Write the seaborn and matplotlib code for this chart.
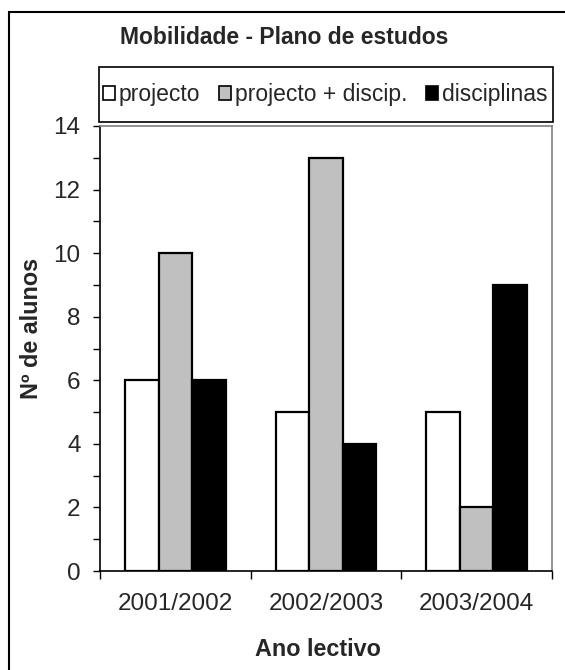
import matplotlib
matplotlib.use("Agg")
import matplotlib.pyplot as plt
import matplotlib.patches as mpatches
from matplotlib.ticker import MultipleLocator, FixedLocator
import pandas as pd
import seaborn as sns

# Academic years and number of students per study-plan type
anos = ["2001/2002", "2002/2003", "2003/2004"]
series = ["projecto", "projecto + discip.", "disciplinas"]
projecto = [6, 5, 5]
projecto_discip = [10, 13, 2]
disciplinas = [6, 4, 9]
cores = ["#ffffff", "#c0c0c0", "#000000"]

df = pd.DataFrame({
    "ano": anos * 3,
    "tipo": [series[0]] * 3 + [series[1]] * 3 + [series[2]] * 3,
    "alunos": projecto + projecto_discip + disciplinas,
})

sns.set_style("white")
plt.rcParams["font.family"] = ["Liberation Sans", "DejaVu Sans"]

FS_TICK = 17.5
FS_LABEL = 16.8
FS = 16.5
W, H = 565, 670
fig = plt.figure(figsize=(W / 100, H / 100), dpi=100)
ax = fig.add_axes([100 / W, (H - 571) / H, 452 / W, 445 / H])

sns.barplot(data=df, x="ano", y="alunos", hue="tipo", order=anos,
            hue_order=series, palette=cores, width=0.667,
            edgecolor="black", linewidth=1.6, saturation=1, ax=ax)
ax.get_legend().remove()

ax.set_xlim(-0.5, 2.5)
ax.set_ylim(0, 14)
ax.yaxis.set_major_locator(MultipleLocator(2))
ax.yaxis.set_minor_locator(MultipleLocator(1))
ax.xaxis.set_minor_locator(FixedLocator([-0.5, 0.5, 1.5, 2.5]))

ax.tick_params(axis="y", which="major", direction="out", length=5, width=1,
               color="black", labelsize=FS_TICK, pad=9, left=True)
ax.tick_params(axis="y", which="minor", direction="out", length=5, width=1,
               color="black", left=True)
ax.tick_params(axis="x", which="major", length=0, labelsize=FS_TICK, pad=16)
ax.tick_params(axis="x", which="minor", direction="out", length=5.5, width=1,
               color="black", bottom=True)

for s in ["left", "bottom"]:
    ax.spines[s].set_color("black")
    ax.spines[s].set_linewidth(1.2)
for s in ["top", "right"]:
    ax.spines[s].set_visible(True)
    ax.spines[s].set_color("#808080")
    ax.spines[s].set_linewidth(1.2)

ax.set_xlabel("Ano lectivo", fontsize=FS_LABEL, fontweight="bold")
ax.set_ylabel("Nº de alunos", fontsize=FS_LABEL, fontweight="bold")
ax.xaxis.set_label_coords((318 - 100) / 452, -(650 - 571) / 445)
ax.yaxis.set_label_coords(-(100 - 31) / 452, (571 - 328) / 445)
ax.xaxis.label.set_va("center")
ax.yaxis.label.set_va("center")

fig.text(284 / W, 1 - 38 / H, "Mobilidade - Plano de estudos",
         fontsize=FS, fontweight="bold", ha="center", va="center")

# Legend box and entries
fig.patches.append(mpatches.Rectangle((99 / W, 1 - 122 / H), (553 - 99) / W,
                                      (122 - 67) / H, transform=fig.transFigure,
                                      facecolor="white", edgecolor="black",
                                      linewidth=1.2, zorder=5))
handles = [mpatches.Patch(facecolor=c, edgecolor="black", linewidth=1.2)
           for c in cores]
leg = fig.legend(handles, series, loc="center",
                 bbox_to_anchor=(325 / W, 1 - 94.5 / H), ncol=3,
                 frameon=False, fontsize=FS, handlelength=0.55,
                 handleheight=0.55, handletextpad=0.15, columnspacing=0.8)
leg.set_zorder(6)

# Outer chart border
fig.patches.append(mpatches.Rectangle((9 / W, -0.1), 1.2, 1 - 12 / H + 0.1,
                                      transform=fig.transFigure,
                                      facecolor="none", edgecolor="black",
                                      linewidth=1.5, zorder=10))

fig.savefig("out.png", dpi=100)
